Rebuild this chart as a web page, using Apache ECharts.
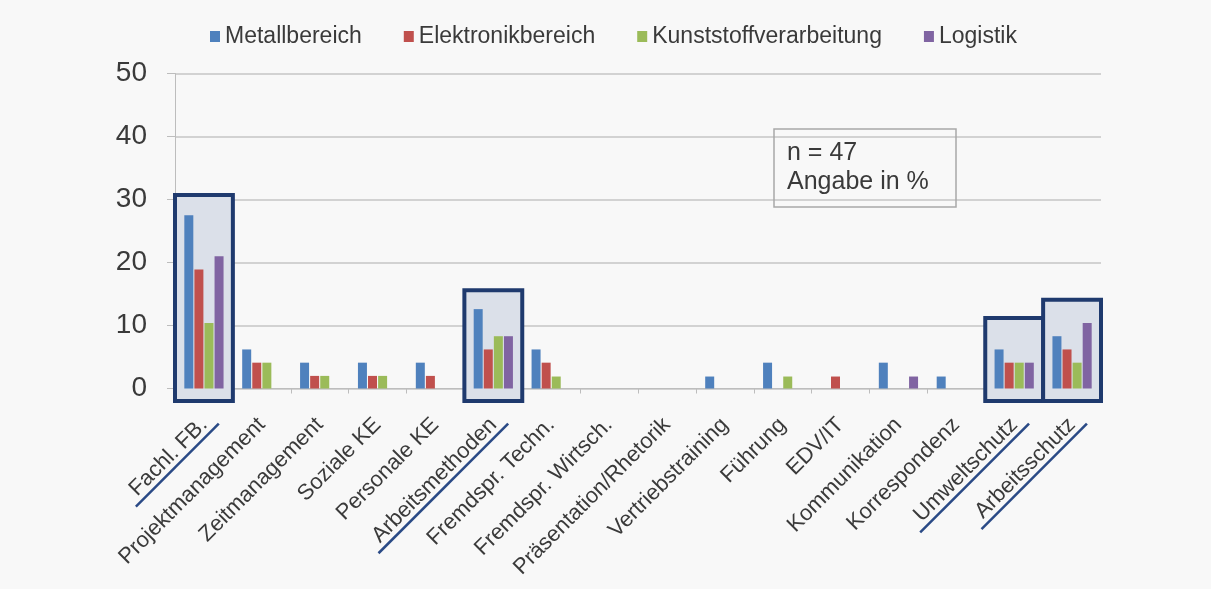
<!DOCTYPE html>
<html>
<head>
<meta charset="utf-8">
<script src="https://cdn.jsdelivr.net/npm/echarts@6/dist/echarts.min.js"></script>
<style>
  html, body { margin: 0; padding: 0; background: #f8f8f8; }
  #chart { width: 1211px; height: 589px; }
</style>
</head>
<body>
<div id="chart"></div>
<script>
// Weiterbildungsbedarf nach Themenfeld und Branche (Angabe in %)
const categories = [
  'Fachl. FB.', 'Projektmanagement', 'Zeitmanagement', 'Soziale KE', 'Personale KE',
  'Arbeitsmethoden', 'Fremdspr. Techn.', 'Fremdspr. Wirtsch.', 'Präsentation/Rhetorik',
  'Vertriebstraining', 'Führung', 'EDV/IT', 'Kommunikation', 'Korrespondenz',
  'Umweltschutz', 'Arbeitsschutz'
];
const seriesNames = ['Metallbereich', 'Elektronikbereich', 'Kunststoffverarbeitung', 'Logistik'];
const metall      = [27.5, 6.2, 4.1, 4.1, 4.1, 12.6, 6.2, 0, 0, 1.9, 4.1, 0,   4.1, 1.9, 6.2, 8.3];
const elektronik  = [18.9, 4.1, 2.0, 2.0, 2.0, 6.2,  4.1, 0, 0, 0,   0,   1.9, 0,   0,   4.1, 6.2];
const kunststoff  = [10.4, 4.1, 2.0, 2.0, 0,   8.3,  1.9, 0, 0, 0,   1.9, 0,   0,   0,   4.1, 4.1];
const logistik    = [21.0, 0,   0,   0,   0,   8.3,  0,   0, 0, 0,   0,   0,   1.9, 0,   4.1, 10.4];
const yTicks = [0, 10, 20, 30, 40, 50];

// Hervorgehobene Themenfelder: Rahmen von unten (bottom) bis oben (top), in %-Einheiten
const highlightCats = ['Fachl. FB.', 'Arbeitsmethoden', 'Umweltschutz', 'Arbeitsschutz'];
const highlightTop = [30.7, 15.6, 11.2, 14.1];
const highlightBottom = -2.0;

const colors = ['#4f81bd', '#c0504d', '#9bbb59', '#8064a2'];
const FONT = '"Liberation Sans", Arial, sans-serif';
const LABEL_SIZE = 22;
const LABEL_MARGIN = 33;

const measureCtx = document.createElement('canvas').getContext('2d');
function textWidth(str) {
  measureCtx.font = LABEL_SIZE + 'px ' + FONT;
  return measureCtx.measureText(str).width;
}

const chart = echarts.init(document.getElementById('chart'), null, { renderer: 'canvas' });

const barData = [metall, elektronik, kunststoff, logistik];
const barSeries = seriesNames.map((name, i) => ({
  name: name,
  type: 'bar',
  data: barData[i],
  barWidth: 9,
  barGap: '12%',
  z: 3,
  itemStyle: { color: colors[i] }
}));

const highlightData = highlightCats.map((c, i) => [categories.indexOf(c), highlightBottom, highlightTop[i]]);

const highlightSeries = {
  type: 'custom',
  name: 'highlight',
  clip: false,
  silent: true,
  z: 1,
  data: highlightData,
  encode: { x: 0, y: [1, 2] },
  renderItem: function (params, api) {
    const idx = api.value(0);
    const bottom = api.coord([idx, api.value(1)]);
    const top = api.coord([idx, api.value(2)]);
    const axisPt = api.coord([idx, 0]);
    const bw = api.size([1, 0])[0];
    const cx = bottom[0];
    // Unterstreichung der gedrehten Achsenbeschriftung (45°)
    const d = Math.SQRT1_2;
    const ax = cx, ay = axisPt[1] + LABEL_MARGIN;
    const off = 12, ext = 9, pre = 8;
    const w = textWidth(categories[idx]);
    const ex = ax + off * d + ext * d, ey = ay + off * d - ext * d;
    const sx = ax + off * d - (w + pre) * d, sy = ay + off * d + (w + pre) * d;
    return {
      type: 'group',
      children: [
        {
          type: 'rect',
          shape: { x: cx - bw / 2, y: top[1], width: bw, height: bottom[1] - top[1] },
          style: { fill: '#dbe0e9', stroke: '#1f3a6e', lineWidth: 4 }
        },
        {
          type: 'line',
          shape: { x1: sx, y1: sy, x2: ex, y2: ey },
          style: { stroke: '#2a4a86', lineWidth: 2.5 }
        }
      ]
    };
  }
};

const option = {
  backgroundColor: '#f8f8f8',
  animation: false,
  textStyle: { fontFamily: FONT },
  legend: {
    data: seriesNames,
    left: 205,
    top: 20,
    icon: 'rect',
    itemWidth: 10,
    itemHeight: 11,
    itemGap: 42,
    textStyle: { fontSize: 23, color: '#3a3a3a', fontFamily: FONT }
  },
  graphic: [
    {
      type: 'rect',
      shape: { x: 774, y: 129, width: 182, height: 78 },
      style: { fill: 'none', stroke: '#a8a8a8', lineWidth: 1.5 },
      z: 10
    },
    {
      type: 'text',
      x: 787,
      y: 139,
      z: 10,
      style: {
        text: 'n = 47\nAngabe in %',
        font: '25px ' + FONT,
        fill: '#3a3a3a',
        lineHeight: 29
      }
    }
  ],
  grid: { left: 175, right: 110, top: 73.5, bottom: 200.5, containLabel: false },
  xAxis: {
    type: 'category',
    data: categories,
    boundaryGap: true,
    axisLine: { show: true, lineStyle: { color: '#bdbdbd', width: 1 } },
    axisTick: { show: true, length: 5, lineStyle: { color: '#bdbdbd' } },
    axisLabel: {
      interval: 0,
      rotate: 45,
      margin: LABEL_MARGIN,
      fontSize: LABEL_SIZE,
      color: '#3a3a3a',
      fontFamily: FONT
    }
  },
  yAxis: {
    type: 'value',
    min: yTicks[0],
    max: yTicks[yTicks.length - 1],
    interval: yTicks[1] - yTicks[0],
    axisLine: { show: true, lineStyle: { color: '#bdbdbd', width: 1 } },
    axisTick: { show: true, length: 8, lineStyle: { color: '#bdbdbd' } },
    splitLine: { show: true, lineStyle: { color: '#c6c6c6', width: 1.5 } },
    axisLabel: { fontSize: 28, color: '#3a3a3a', margin: 28, fontFamily: FONT }
  },
  series: [highlightSeries].concat(barSeries)
};

chart.setOption(option);
</script>
</body>
</html>
